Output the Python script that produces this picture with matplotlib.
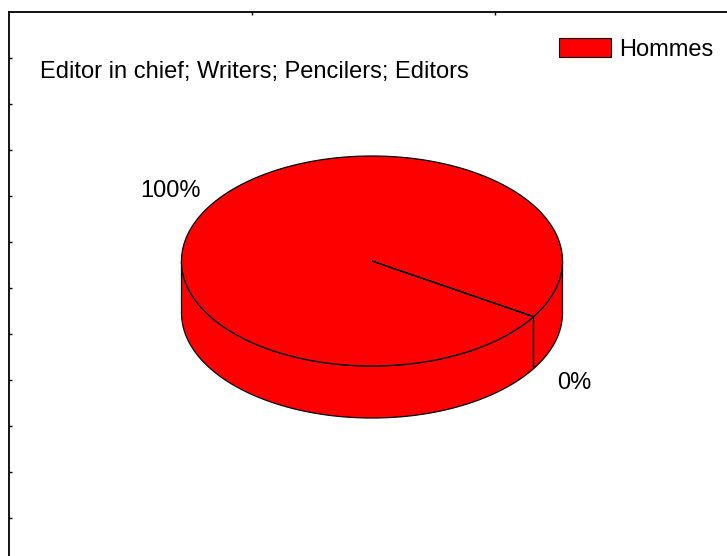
import numpy as np
import matplotlib
matplotlib.use("Agg")
import matplotlib.pyplot as plt
from matplotlib.patches import Polygon, Patch

# Data
categories = ["Hommes", "Femmes"]
values = [100, 0]
colors = ["#FF0000", "#4F81BD"]
title = "Editor in chief; Writers; Pencilers; Editors"

plt.rcParams['font.family'] = ['Liberation Sans', 'DejaVu Sans']

W, H = 727, 556
fig = plt.figure(figsize=(W / 100, H / 100), dpi=100)

# Plot-area frame with inward ticks on the left and top edges
frame = fig.add_axes([9 / W, 1 - 564 / H, 729 / W, 552 / H])
frame.set_xlim(0, 3)
frame.set_ylim(0, 12)
frame.set_xticks([1, 2])
frame.set_yticks(range(1, 12))
frame.tick_params(direction='in', length=2.5, width=1,
                  left=True, top=True, bottom=False, right=False,
                  labelleft=False, labelbottom=False, labeltop=False)
for side in ("left", "top"):
    frame.spines[side].set_linewidth(1.3)
for side in ("right", "bottom"):
    frame.spines[side].set_visible(False)

# Pixel-space overlay for the 3D pie
ax = fig.add_axes([0, 0, 1, 1])
ax.set_xlim(0, W)
ax.set_ylim(H, 0)
ax.axis('off')

cx, cy = 372, 261
rx, ry = 190.5, 105
depth = 52
start = -32.0  # degrees, slices run clockwise


def pt(t_deg, dz=0.0):
    t = np.radians(t_deg)
    return cx + rx * np.cos(t), cy - ry * np.sin(t) + dz


total = float(sum(values))
wedges = []
a0 = start
for v in values:
    a1 = a0 - 360.0 * v / total
    wedges.append((a0, a1, v))
    a0 = a1

# Side walls (only the front half is visible)
for (a0, a1, v), col in zip(wedges, colors):
    if v <= 0:
        continue
    ts = np.linspace(a0, a1, 721)
    front = np.sin(np.radians(ts)) <= 1e-9
    runs = []
    cur = []
    for t, f in zip(ts, front):
        if f:
            cur.append(t)
        elif cur:
            runs.append(cur)
            cur = []
    if cur:
        runs.append(cur)
    for run in runs:
        top = [pt(t) for t in run]
        bot = [pt(t, depth) for t in run[::-1]]
        ax.add_patch(Polygon(top + bot, closed=True, facecolor=col,
                             edgecolor='black', linewidth=0.9))

# Top faces
for (a0, a1, v), col in zip(wedges, colors):
    if v <= 0:
        continue
    ts = np.linspace(a0, a1, 721)
    verts = [(cx, cy)] + [pt(t) for t in ts]
    ax.add_patch(Polygon(verts, closed=True, facecolor=col,
                         edgecolor='black', linewidth=0.9))

fs = 17
# Percentage labels
for (a0, a1, v) in wedges:
    m = (a0 + a1) / 2.0
    s = np.sin(np.radians(m))
    lx = cx + 1.25 * rx * np.cos(np.radians(m))
    ly = cy - 1.25 * ry * s + (depth if s < 0 else 0)
    ax.text(lx, ly, f"{round(100 * v / total)}%", fontsize=fs,
            ha='center', va='center', color='black')

ax.text(40, 72, title, fontsize=fs, ha='left', va='center', color='black')

# Legend (only non-empty categories)
handles = [Patch(facecolor=c, edgecolor='black', linewidth=0.8)
           for c, v in zip(colors, values) if v > 0]
labels = [n for n, v in zip(categories, values) if v > 0]
em = fs * 100 / 72
fig.legend(handles, labels, loc='upper left',
           bbox_to_anchor=(559 / W, 1 - 38 / H), frameon=False,
           borderpad=0, borderaxespad=0, fontsize=fs,
           handlelength=52 / em, handleheight=20 / em,
           handletextpad=8 / em, labelcolor='black')

fig.savefig("out.png", dpi=100)
